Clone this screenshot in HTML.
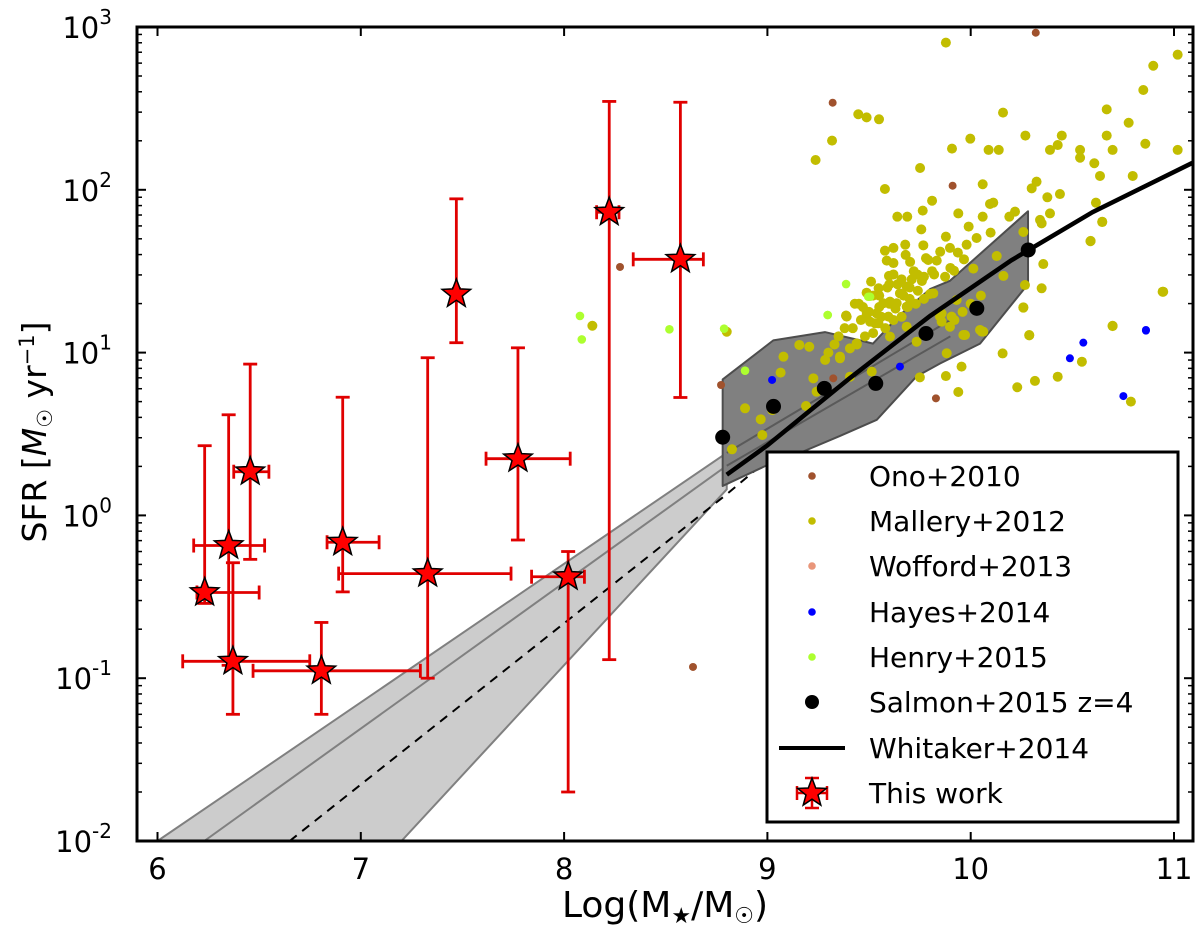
<!DOCTYPE html>
<html><head><meta charset="utf-8"><style>
html,body{margin:0;padding:0;background:#fff;}
svg text{font-family:"DejaVu Sans","Liberation Sans",sans-serif;}
</style></head><body>
<svg id="chart" width="1200" height="930" viewBox="0 0 1200 930" xmlns="http://www.w3.org/2000/svg">
<g id="plot"></g>
</svg>
<script>
// ---- data ----
const starLogM  = [6.232,6.350,6.371,6.456,6.806,6.911,7.329,7.773,8.020,7.470,8.222,8.572];
const starSFR   = [0.336,0.653,0.127,1.855,0.111,0.684,0.439,2.23,0.42,22.9,72.8,37.4];
const starMlo   = [6.194,6.178,6.124,6.375,6.470,6.834,6.891,7.616,7.840,7.455,8.160,8.340];
const starMhi   = [6.500,6.527,6.749,6.548,7.293,7.090,7.739,8.030,8.100,7.485,8.270,8.685];
const starSFRlo = [0.288,0.12,0.06,0.537,0.06,0.339,0.1,0.706,0.02,11.5,0.13,5.3];
const starSFRhi = [2.68,4.15,0.512,8.5,0.22,5.32,9.3,10.7,0.6,88,349,345];

const salmonLogM = [8.78,9.03,9.28,9.533,9.78,10.03,10.283];
const salmonSFR  = [3.02,4.67,6.03,6.47,13.1,18.7,42.7];
const salmonBandM = [8.780,8.780,9.029,9.283,9.456,9.519,9.642,9.800,9.898,10.282,10.282,10.046,9.849,9.734,9.538,9.357,9.160,9.003];
const salmonBandL = [0.181,0.835,1.075,1.126,1.075,1.055,1.220,1.390,1.441,1.868,1.421,1.055,0.933,0.854,0.587,0.488,0.384,0.311];

const whitM = [8.8,9.0,9.4,9.8,10.2,10.6,11.09];
const whitL = [0.25,0.43,0.838,1.225,1.567,1.863,2.165];

const bandUpperM = [6.0,8.8];  const bandUpperL = [-2,0.384];
const bandMidM   = [6.23,8.8]; const bandMidL   = [-2,0.305];
const bandLowerM = [7.2,8.8];  const bandLowerL = [-2,0.16];
const bandExtUpM = [8.8,9.9];  const bandExtUpL = [0.384,1.2];
const bandExtMidM = [8.8,9.9]; const bandExtMidL = [0.305,1.1];
const dashM = [6.65,8.8,9.39,9.69]; const dashL = [-2,0.13,0.75,1.03];

const onoM = [10.32,9.321,9.911,9.829,8.772,9.324,8.634,8.275];
const onoL = [2.965,2.535,2.025,0.719,0.801,0.842,-0.931,1.526];
const hayesM = [10.862,9.652,10.488,10.554,10.862,10.751,9.023];
const hayesL = [1.139,0.914,0.965,1.061,1.135,0.733,0.832];
const henryM = [9.387,9.496,9.296,9.505,8.078,8.087,8.518,8.787,8.89,9.297];
const henryL = [1.421,1.343,1.231,1.343,1.225,1.081,1.143,1.147,0.889,1.231];
const malleryM = [9.878,9.447,9.488,9.549,9.318,9.237,10.159,9.998,9.908,10.088,10.138,10.269,10.39,10.428,10.448,10.538,10.538,10.608,10.669,10.669,10.698,10.777,10.849,10.898,11.018,10.859,11.018,10.636,10.797,9.751,9.578,10.059,9.81,9.639,9.688,9.764,9.939,9.99,10.059,10.095,10.111,10.19,10.218,10.3,10.324,10.377,10.439,10.39,10.341,10.349,10.616,10.647,10.589,9.757,9.878,10.029,10.098,9.898,9.937,9.98,9.678,9.62,9.578,9.587,9.702,9.767,9.791,9.833,9.967,10.128,10.259,10.357,9.598,9.739,9.77,9.874,9.918,10.013,10.161,9.685,9.652,9.51,9.547,9.488,10.267,10.349,10.947,9.603,9.636,9.685,9.57,9.537,9.488,9.387,9.595,9.505,9.816,9.857,9.857,9.906,9.931,10.259,10.698,10.288,10.054,9.972,10.288,10.157,10.259,9.964,10.062,9.882,9.955,9.75,9.878,9.939,10.229,10.316,10.428,10.547,10.698,10.59,10.647,10.944,10.788,9.685,9.734,9.783,9.513,9.439,9.39,9.488,9.546,9.603,9.849,9.898,10.046,9.357,9.406,8.139,8.8,9.387,9.157,9.206,9.079,9.065,8.89,8.967,8.975,8.826,9.024,9.226,9.284,9.357,9.406,9.19,9.242,9.45,9.52,9.6,9.66,9.72,9.81,9.9,9.62,9.7,9.55,
 9.42,9.46,9.5,9.53,9.56,9.6,9.63,9.67,9.7,9.74,9.44,9.48,9.52,9.58,9.62,9.66,9.69,9.73,9.77,9.8,9.35,9.38,9.43,9.47,9.55,9.59,9.64,9.71,9.76,9.82,9.3,9.33,9.62,9.68,9.78,9.85,9.92,9.96,10.0,10.05];
const malleryL = [2.904,2.464,2.445,2.433,2.302,2.183,2.474,2.314,2.253,2.245,2.245,2.333,2.245,2.275,2.333,2.245,2.197,2.163,2.494,2.333,2.245,2.412,2.613,2.762,2.830,2.283,2.245,2.085,2.085,2.134,2.005,2.034,1.933,1.835,1.835,1.872,1.855,1.774,1.835,1.913,1.921,1.835,1.866,2.009,2.05,1.954,1.974,1.855,1.815,1.794,1.921,1.804,1.684,1.757,1.712,1.704,1.737,1.643,1.614,1.663,1.663,1.643,1.626,1.565,1.557,1.659,1.569,1.565,1.573,1.593,1.741,1.544,1.471,1.479,1.466,1.466,1.503,1.516,1.471,1.405,1.364,1.436,1.395,1.368,1.415,1.395,1.374,1.313,1.303,1.282,1.303,1.241,1.231,1.227,1.221,1.19,1.364,1.241,1.19,1.221,1.323,1.278,1.165,1.108,1.129,1.108,1.106,0.995,1.276,1.108,1.129,0.996,0.914,0.848,0.856,0.758,0.787,0.826,0.852,0.944,1.163,1.686,1.802,1.374,0.699,1.159,1.067,1.129,0.883,1.057,1.221,1.252,1.18,1.098,1.221,1.159,1.139,0.975,0.852,1.165,1.128,1.227,1.047,1.036,0.975,0.877,0.658,0.59,0.494,0.406,0.647,0.842,0.955,0.965,1.026,0.672,0.76,1.30,1.35,1.42,1.45,1.50,1.50,1.52,1.48,1.40,1.28,
 1.15,1.2,1.25,1.18,1.22,1.3,1.27,1.35,1.33,1.38,1.05,1.1,1.12,1.15,1.2,1.22,1.28,1.3,1.33,1.36,1.1,1.15,1.3,1.28,1.35,1.4,1.42,1.45,1.44,1.48,1.0,1.05,1.55,1.6,1.58,1.62,1.2,1.25,1.3,1.35];

const xTicks = [6,7,8,9,10,11];
const yTickExp = [-2,-1,0,1,2,3];

// ---- axes ----
const L=137, R=1193, T=27, B=841;
const X = m => 157.5 + (m-6)*203.3;
const YL = l => T + (3-l)*162.8;
const Y = v => YL(Math.log10(v));
const NS="http://www.w3.org/2000/svg";
const plot=document.getElementById('plot');
function mk(tag,attrs,parent){const e=document.createElementNS(NS,tag);for(const k in attrs)e.setAttribute(k,attrs[k]);(parent||plot).appendChild(e);return e;}

const clip=mk('clipPath',{id:'clip'});mk('rect',{x:L,y:T,width:R-L,height:B-T},clip);
const g=mk('g',{'clip-path':'url(#clip)'});



const bandPts=[[X(bandUpperM[0]),YL(bandUpperL[0])],[X(bandUpperM[1]),YL(bandUpperL[1])],[X(bandLowerM[1]),YL(bandLowerL[1])],[X(bandLowerM[0]),YL(bandLowerL[0])]];
let e=mk('polygon',{points:bandPts.map(p=>p.join(',')).join(' '),fill:'#cccccc',stroke:'#808080','stroke-width':2},g);


e=mk('line',{x1:X(bandMidM[0]),y1:YL(bandMidL[0]),x2:X(bandMidM[1]),y2:YL(bandMidL[1]),stroke:'#808080','stroke-width':2},g);


e=mk('polyline',{points:dashM.map((m,i)=>X(m)+','+YL(dashL[i])).join(' '),fill:'none',stroke:'#000','stroke-width':2,'stroke-dasharray':'9,7'},g);



e=mk('polygon',{points:salmonBandM.map((m,i)=>X(m)+','+YL(salmonBandL[i])).join(' '),fill:'#808080',stroke:'#4d4d4d','stroke-width':2,'stroke-linejoin':'round'},g);


e=mk('line',{x1:X(bandExtUpM[0]),y1:YL(bandExtUpL[0]),x2:X(bandExtUpM[1]),y2:YL(bandExtUpL[1]),stroke:'#5a5a5a','stroke-width':2},g);


e=mk('line',{x1:X(bandExtMidM[0]),y1:YL(bandExtMidL[0]),x2:X(bandExtMidM[1]),y2:YL(bandExtMidL[1]),stroke:'#5a5a5a','stroke-width':2},g);



function scatter(ms,ls,color,r,name){
  ms.forEach((m,i)=>{
    const c=mk('circle',{cx:X(m),cy:YL(ls[i]),r:r,fill:color},g);
    
    
  });
}
scatter(malleryM,malleryL,'#c2bd00',5,'mallery-point');
scatter(henryM,henryL,'#adff2f',4.3,'henry-point');
scatter(onoM,onoL,'#a0522d',4,'ono-point');
scatter(hayesM,hayesL,'#0000ff',4,'hayes-point');

e=mk('polyline',{points:whitM.map((m,i)=>X(m)+','+YL(whitL[i])).join(' '),fill:'none',stroke:'#000','stroke-width':4.5},g);


salmonLogM.forEach((m,i)=>{
  const c=mk('circle',{cx:X(m),cy:Y(salmonSFR[i]),r:7.5,fill:'#000'},g);
  
  
});

function starPath(cx,cy,ro){const ri=ro*0.42;let p=[];for(let k=0;k<10;k++){const a=-Math.PI/2+k*Math.PI/5;const r=k%2?ri:ro;p.push((cx+r*Math.cos(a)).toFixed(1)+','+(cy+r*Math.sin(a)).toFixed(1));}return 'M'+p.join('L')+'Z';}
starLogM.forEach((m,i)=>{
  const cx=X(m), cy=Y(starSFR[i]);
  const eb=mk('g',{stroke:'#e00000','stroke-width':2.8,fill:'none'},g);
  
  
  const y1=Y(starSFRhi[i]), y2=Y(starSFRlo[i]), x1=X(starMlo[i]), x2=X(starMhi[i]);
  mk('line',{x1:cx,y1:y1,x2:cx,y2:y2},eb);
  mk('line',{x1:cx-7,y1:y1,x2:cx+7,y2:y1},eb);
  mk('line',{x1:cx-7,y1:y2,x2:cx+7,y2:y2},eb);
  mk('line',{x1:x1,y1:cy,x2:x2,y2:cy},eb);
  mk('line',{x1:x1,y1:cy-7,x2:x1,y2:cy+7},eb);
  mk('line',{x1:x2,y1:cy-7,x2:x2,y2:cy+7},eb);
});
starLogM.forEach((m,i)=>{
  const s=mk('path',{d:starPath(X(m),Y(starSFR[i]),15),fill:'#ff0000',stroke:'#000','stroke-width':1.5,'stroke-linejoin':'miter'},g);
  
  
});

const ax=mk('g',{stroke:'#000'});


mk('rect',{x:L,y:T,width:R-L,height:B-T,fill:'none','stroke-width':3},ax);
xTicks.forEach(t=>{
  const x=X(t);
  mk('line',{x1:x,y1:B,x2:x,y2:B-9,'stroke-width':2},ax);
  mk('line',{x1:x,y1:T,x2:x,y2:T+9,'stroke-width':2},ax);
  const tx=mk('text',{x:x,y:B+38,'font-size':29,'text-anchor':'middle',stroke:'none',fill:'#000'});
  tx.textContent=String(t);
  
  
});
yTickExp.forEach(ex=>{
  const y=YL(ex);
  mk('line',{x1:L,y1:y,x2:L+9,y2:y,'stroke-width':2},ax);
  mk('line',{x1:R,y1:y,x2:R-9,y2:y,'stroke-width':2},ax);
  if(ex<3){for(let k=2;k<10;k++){const yy=YL(ex+Math.log10(k));
    mk('line',{x1:L,y1:yy,x2:L+5,y2:yy,'stroke-width':1.5},ax);
    mk('line',{x1:R,y1:yy,x2:R-5,y2:yy,'stroke-width':1.5},ax);}}
  const tx=mk('text',{x:112,y:y+11,'font-size':29,'text-anchor':'end',stroke:'none',fill:'#000'});
  tx.textContent='10';
  const sp=mk('tspan',{'font-size':20,dy:-14},tx); sp.textContent=String(ex);
  
  
});
</script>
<svg style="position:absolute;left:0;top:0" width="1200" height="930" xmlns="http://www.w3.org/2000/svg">
<text x="665" y="917" font-size="36" text-anchor="middle" font-family="DejaVu Sans, Liberation Sans, sans-serif">Log(M<tspan font-size="22" dy="6">★</tspan><tspan dy="-6">/M</tspan><tspan font-size="22" dy="6">☉</tspan><tspan dy="-6">)</tspan></text>
<text transform="translate(46,432) rotate(-90)" font-size="33" text-anchor="middle" font-family="DejaVu Sans, Liberation Sans, sans-serif">SFR [<tspan font-style="italic">M</tspan><tspan font-size="21" dy="6">☉</tspan><tspan dy="-6"> yr</tspan><tspan font-size="21" dy="-12">−1</tspan><tspan dy="12">]</tspan></text>
<g font-family="DejaVu Sans, Liberation Sans, sans-serif" font-size="28">
<rect x="767" y="452" width="411" height="370" fill="#fff" stroke="#000" stroke-width="3"/>
<g><circle cx="812" cy="476" r="3.8" fill="#a0522d"/><text x="869" y="486">Ono+2010</text></g>
<g><circle cx="812" cy="521" r="3.8" fill="#c2bd00"/><text x="869" y="531">Mallery+2012</text></g>
<g><circle cx="812" cy="566" r="3.8" fill="#e9967a"/><text x="869" y="576">Wofford+2013</text></g>
<g><circle cx="812" cy="612" r="3.8" fill="#0000ff"/><text x="869" y="622">Hayes+2014</text></g>
<g><circle cx="812" cy="657" r="3.8" fill="#adff2f"/><text x="869" y="667">Henry+2015</text></g>
<g><circle cx="812" cy="702" r="7" fill="#000"/><text x="869" y="712">Salmon+2015 z=4</text></g>
<g><line x1="779" y1="748" x2="845" y2="748" stroke="#000" stroke-width="4"/><text x="869" y="758">Whitaker+2014</text></g>
<g><g stroke="#e00000" stroke-width="2.5"><line x1="812" y1="778" x2="812" y2="808"/><line x1="805" y1="778" x2="819" y2="778"/><line x1="805" y1="808" x2="819" y2="808"/><line x1="797" y1="793" x2="827" y2="793"/><line x1="797" y1="786" x2="797" y2="800"/><line x1="827" y1="786" x2="827" y2="800"/></g><path d="M812,778 L815.7,788 L826.3,788.4 L818,795 L820.8,805.1 L812,799.2 L803.2,805.1 L806,795 L797.7,788.4 L808.3,788 Z" fill="#ff0000" stroke="#000" stroke-width="1.5"/><text x="869" y="803">This work</text></g>
</g>
</svg>
</body></html>
